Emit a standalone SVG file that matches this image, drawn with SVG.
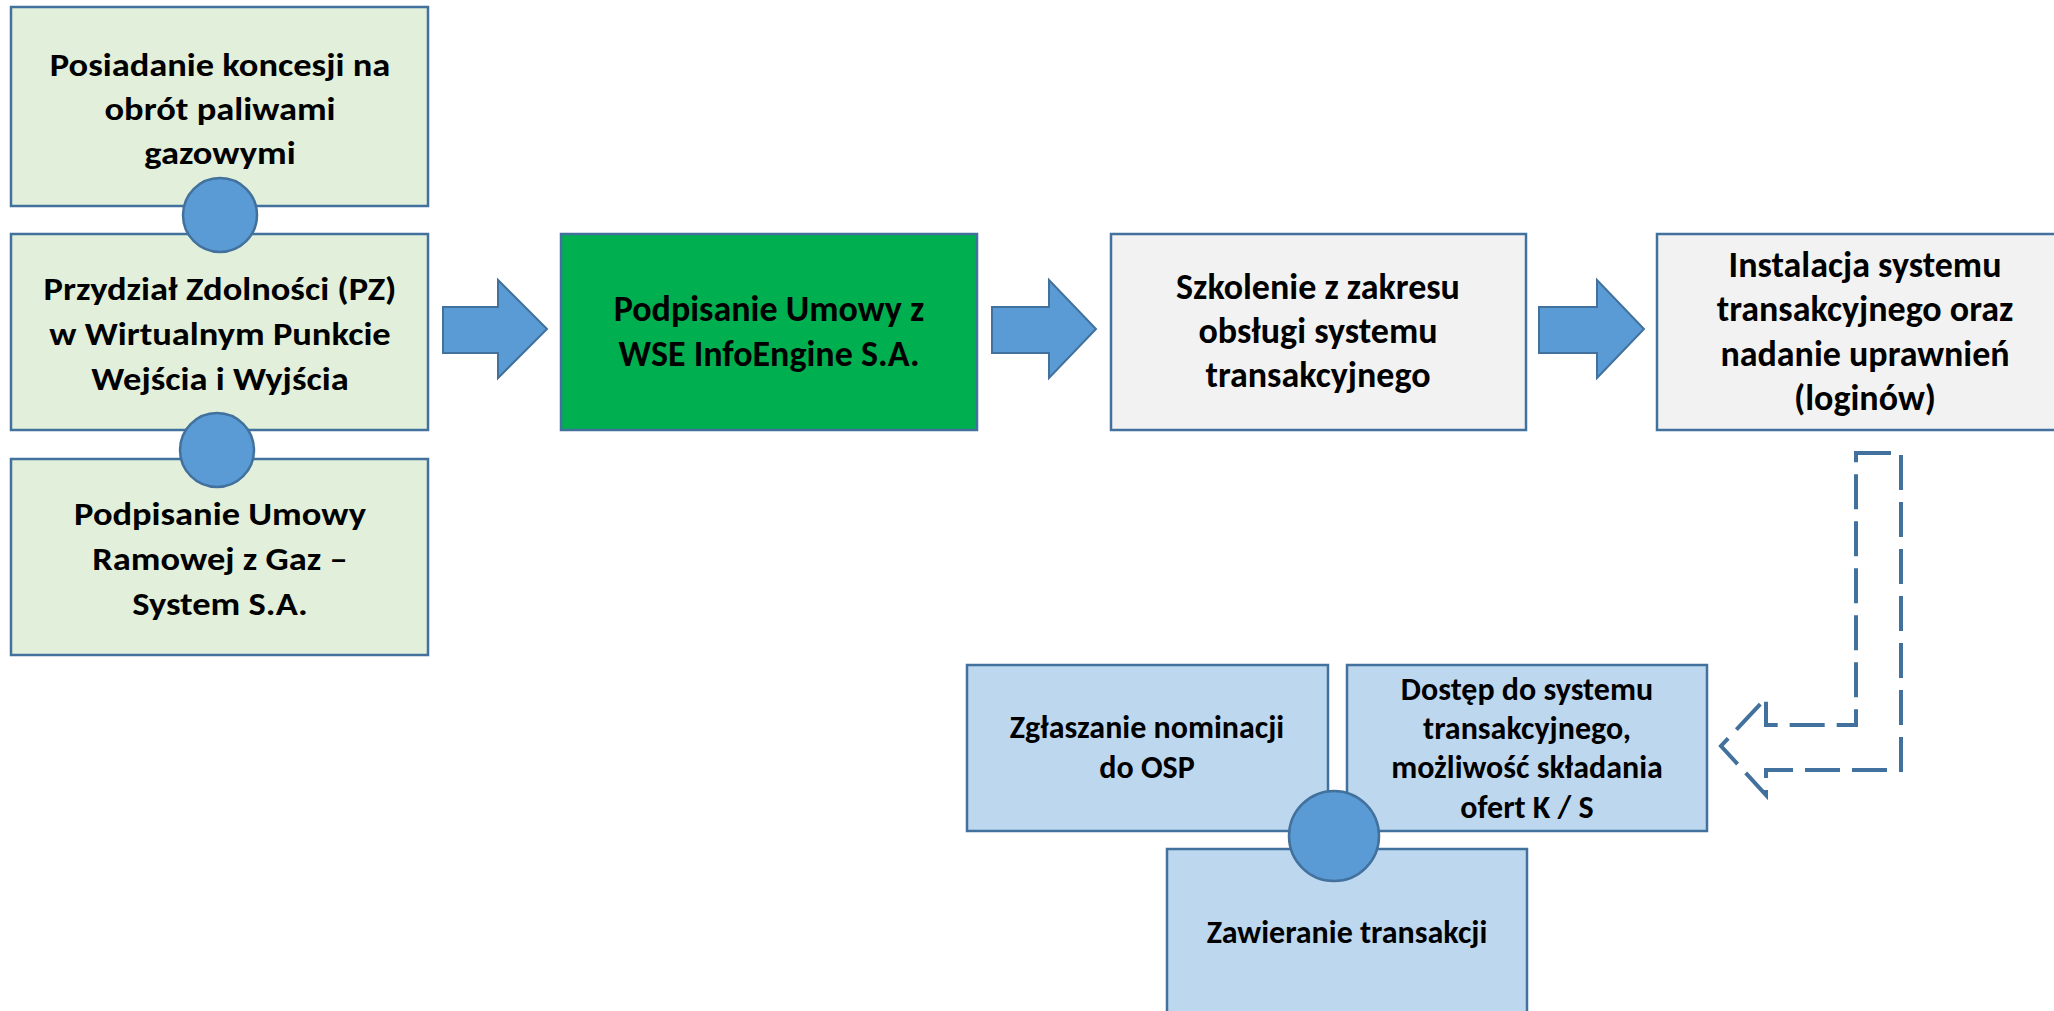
<svg xmlns="http://www.w3.org/2000/svg" width="2054" height="1011" viewBox="0 0 2054 1011">
<style>
.box{stroke:#41719C;stroke-width:2.5}
.pre{fill:#E2EFDA}
.grn{fill:#00B050}
.gry{fill:#F2F2F2}
.lb{fill:#BDD7EE}
.blob{fill:#5B9BD5;stroke:#41719C;stroke-width:2.5}
.arr{fill:#5B9BD5;stroke:#41719C;stroke-width:2}
.t1{font-family:Carlito,Lato,"Liberation Sans",sans-serif;font-weight:bold;font-size:32px;fill:#000;text-anchor:middle}
.t2{font-family:Carlito,Lato,"Liberation Sans",sans-serif;font-weight:bold;font-size:36px;fill:#000;text-anchor:middle}
.t3{font-family:Carlito,Lato,"Liberation Sans",sans-serif;font-weight:bold;font-size:32px;fill:#000;text-anchor:middle}
.dash{fill:none;stroke:#41719C;stroke-width:4;stroke-dasharray:35 12}
</style>
<rect width="2054" height="1011" fill="#fff"/>
<g id="n-koncesja"><rect class="box pre" x="11" y="7" width="417" height="199"/>
<text class="t1" transform="translate(220 0) scale(1.14 1)"><tspan x="0" y="76">Posiadanie koncesji na</tspan><tspan x="0" y="120">obrót paliwami</tspan><tspan x="0" y="164">gazowymi</tspan></text></g>
<g id="n-przydzial"><rect class="box pre" x="11" y="234" width="417" height="196"/>
<text class="t1" transform="translate(220 0) scale(1.14 1)"><tspan x="0" y="300">Przydział Zdolności (PZ)</tspan><tspan x="0" y="345">w Wirtualnym Punkcie</tspan><tspan x="0" y="390">Wejścia i Wyjścia</tspan></text></g>
<g id="n-umowa-ramowa"><rect class="box pre" x="11" y="459" width="417" height="196"/>
<text class="t1" transform="translate(220 0) scale(1.14 1)"><tspan x="0" y="525">Podpisanie Umowy</tspan><tspan x="0" y="570">Ramowej z Gaz –</tspan><tspan x="0" y="615">System S.A.</tspan></text></g>
<g id="n-umowa-wse"><rect class="box grn" x="561" y="234" width="416" height="196"/>
<text class="t2"><tspan x="769" y="321">Podpisanie Umowy z</tspan><tspan x="769" y="366">WSE InfoEngine S.A.</tspan></text></g>
<g id="n-szkolenie"><rect class="box gry" x="1111" y="234" width="415" height="196"/>
<text class="t2"><tspan x="1318" y="299">Szkolenie z zakresu</tspan><tspan x="1318" y="343">obsługi systemu</tspan><tspan x="1318" y="387">transakcyjnego</tspan></text></g>
<g id="n-instalacja"><rect class="box gry" x="1657" y="234" width="415" height="196"/>
<text class="t2"><tspan x="1865" y="277">Instalacja systemu</tspan><tspan x="1865" y="321">transakcyjnego oraz</tspan><tspan x="1865" y="366">nadanie uprawnień</tspan><tspan x="1865" y="410">(loginów)</tspan></text></g>
<g id="n-nominacje"><rect class="box lb" x="967" y="665" width="361" height="166"/>
<text class="t3"><tspan x="1147" y="738">Zgłaszanie nominacji</tspan><tspan x="1147" y="778">do OSP</tspan></text></g>
<g id="n-dostep"><rect class="box lb" x="1347" y="665" width="360" height="166"/>
<text class="t3"><tspan x="1527" y="700">Dostęp do systemu</tspan><tspan x="1527" y="739">transakcyjnego,</tspan><tspan x="1527" y="778">możliwość składania</tspan><tspan x="1527" y="818">ofert K / S</tspan></text></g>
<g id="n-transakcje"><rect class="box lb" x="1167" y="849" width="360" height="190"/>
<text class="t3"><tspan x="1347" y="943">Zawieranie transakcji</tspan></text></g>
<g id="connectors">
<circle class="blob" cx="220" cy="215" r="37"/>
<circle class="blob" cx="217" cy="450" r="37"/>
<polygon class="arr" points="443,307 498,307 498,280 547,329 498,378 498,353 443,353"/>
<polygon class="arr" points="992,307 1049,307 1049,280 1096,329 1049,378 1049,353 992,353"/>
<polygon class="arr" points="1539,307 1597,307 1597,280 1644,329 1597,378 1597,353 1539,353"/>
<path class="dash" d="M1856,453 L1901,453 L1901,770 L1766,770 L1766,795 L1721,746 L1766,698 L1766,725 L1856,725 Z"/>
<circle class="blob" cx="1334" cy="836" r="45"/>
</g>
</svg>
